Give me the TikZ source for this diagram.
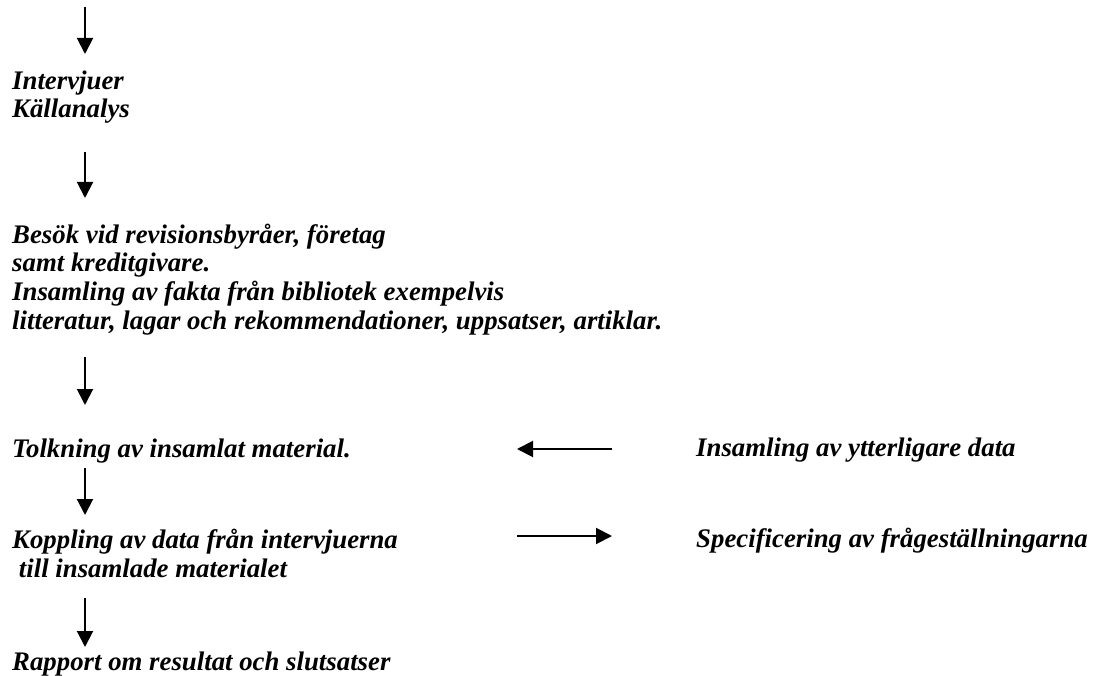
\documentclass[tikz,border=0pt]{standalone}
\usepackage{fontspec}
\setmainfont{Liberation Serif}
\usetikzlibrary{arrows.meta}
\begin{document}
\begin{tikzpicture}[x=1pt,y=1pt,
  stage/.style={anchor=base west, inner sep=0pt, align=left,
    font=\fontsize{26.8}{28.8}\selectfont\bfseries\itshape},
  flow/.style={line width=2pt, -{Triangle[width=16pt,length=16pt]}},
]
\useasboundingbox[fill=white] (0,0) rectangle (1100,-676);

% vertical axis of the main flow and its open top end
\coordinate (axis) at (85,0);
\coordinate (entry) at (85,-7);

% main column (base = baseline of the last line of each block)
\node[stage] (intv) at (12,-118) {Intervjuer\\Källanalys};
\node[stage] (besok) at (12,-329.4) {Besök vid revisionsbyråer, företag\\samt kreditgivare.\\Insamling av fakta från bibliotek exempelvis\\litteratur, lagar och rekommendationer, uppsatser, artiklar.};
\node[stage] (tolk) at (12,-457) {Tolkning av insamlat material.};
\node[stage] (kopp) at (12,-577) {Koppling av data från intervjuerna\\\hspace*{0.25em}till insamlade materialet};
\node[stage] (rap) at (12,-670) {Rapport om resultat och slutsatser};

% side column
\node[stage] (yt) at (696,-456) {Insamling av ytterligare data};
\node[stage] (spec) at (696,-547) {Specificering av frågeställningarna};

% main flow arrows
\draw[flow, shorten >=64pt] (entry) -- (axis |- intv.base);
\draw[flow, shorten <=34pt, shorten >=131.4pt] (axis |- intv.base) -- (axis |- besok.base);
\draw[flow, shorten <=27.6pt, shorten >=52pt] (axis |- besok.base) -- (axis |- tolk.base);
\draw[flow, shorten <=11pt, shorten >=62pt] (axis |- tolk.base) -- (axis |- kopp.base);
\draw[flow, shorten <=21pt, shorten >=23pt] (axis |- kopp.base) -- (axis |- rap.base);

% side arrows between the two columns
\draw[flow, shorten <=84pt, shorten >=432pt] ([yshift=7pt]yt.base west) -- ([yshift=7pt]yt.base west -| axis);
\draw[flow, shorten <=432pt, shorten >=84pt] ([yshift=11pt]spec.base west -| axis) -- ([yshift=11pt]spec.base west);
\end{tikzpicture}
\end{document}
